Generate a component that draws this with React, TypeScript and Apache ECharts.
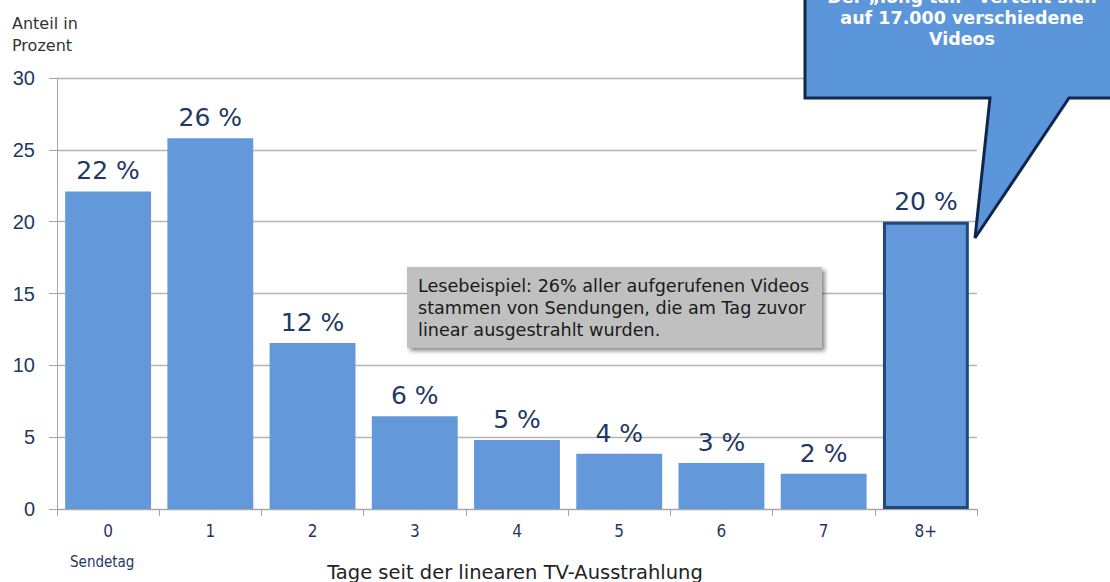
import React, { useEffect, useRef } from "react";
import * as echarts from "echarts";

const categories = ["0", "1", "2", "3", "4", "5", "6", "7", "8+"];
const values = [22.1, 25.8, 11.55, 6.45, 4.8, 3.85, 3.2, 2.45, 20.0];
const labels = ["22 %", "26 %", "12 %", "6 %", "5 %", "4 %", "3 %", "2 %", "20 %"];
const yTicks = [0, 5, 10, 15, 20, 25, 30];

const NAVY = "#1f3864";
const BAR = "#6399da";

export default function App() {
  const ref = useRef<HTMLDivElement>(null);
  useEffect(() => {
    const chart = echarts.init(ref.current!, null, { renderer: "svg" });
    chart.setOption({
      animation: false,
      backgroundColor: "#ffffff",
      grid: { left: 57, right: 133, top: 78, bottom: 73 },
      xAxis: {
        type: "category",
        data: categories,
        axisLine: { lineStyle: { color: "#a6a6a6", width: 1 } },
        axisTick: { show: true, length: 7, lineStyle: { color: "#a6a6a6" } },
        axisLabel: {
          color: NAVY,
          fontSize: 17,
          fontFamily: "Liberation Sans Narrow, DejaVu Sans Condensed, Arial",
          margin: 13,
        },
      },
      yAxis: {
        type: "value",
        min: yTicks[0],
        max: yTicks[yTicks.length - 1],
        interval: 5,
        axisLine: { show: true, lineStyle: { color: "#a6a6a6" } },
        axisTick: { show: true, length: 8, lineStyle: { color: "#a6a6a6" } },
        splitLine: { lineStyle: { color: "#b4b4b4", width: 1.3 } },
        axisLabel: {
          color: NAVY,
          fontSize: 20,
          fontFamily: "Liberation Sans, Arial",
          margin: 22,
        },
      },
      series: [
        {
          type: "bar",
          barCategoryGap: "16%",
          data: values.map((v, i) =>
            i === values.length - 1
              ? { value: v, itemStyle: { color: BAR, borderColor: "#1f497d", borderWidth: 3 } }
              : { value: v, itemStyle: { color: BAR } }
          ),
          label: {
            show: true,
            position: "top",
            distance: 8,
            color: NAVY,
            fontSize: 25,
            fontFamily: "DejaVu Sans, Verdana",
            formatter: (p: any) => labels[p.dataIndex],
          },
        },
      ],
      graphic: [
        {
          type: "text",
          left: 12,
          top: 12,
          style: {
            text: "Anteil in\nProzent",
            fontSize: 16,
            lineHeight: 22,
            fill: "#333333",
            fontFamily: "DejaVu Sans, Verdana",
          },
        },
        {
          type: "text",
          left: 70,
          top: 554,
          style: {
            text: "Sendetag",
            fontSize: 15,
            fill: NAVY,
            fontFamily: "Liberation Sans Narrow, DejaVu Sans Condensed, Arial",
          },
        },
        {
          type: "text",
          x: 515,
          y: 572,
          style: {
            text: "Tage seit der linearen TV-Ausstrahlung",
            fontSize: 19.5,
            fill: "#222222",
            align: "center",
            verticalAlign: "middle",
            fontFamily: "DejaVu Sans, Verdana",
          },
        },
        {
          type: "rect",
          shape: { x: 407, y: 267, width: 415, height: 81 },
          style: {
            fill: "#c0c0c0",
            shadowBlur: 4,
            shadowOffsetX: 3,
            shadowOffsetY: 3,
            shadowColor: "rgba(0,0,0,0.45)",
          },
          z: 10,
        },
        {
          type: "text",
          x: 418,
          y: 275,
          z: 11,
          style: {
            text:
              "Lesebeispiel: 26% aller aufgerufenen Videos\nstammen von Sendungen, die am Tag zuvor\nlinear ausgestrahlt wurden.",
            fontSize: 17.6,
            lineHeight: 22,
            fill: "#1a1a1a",
            fontFamily: "DejaVu Sans, Verdana",
          },
        },
        {
          type: "polygon",
          z: 10,
          shape: {
            points: [
              [805, -5],
              [1116, -5],
              [1116, 98],
              [1069, 98],
              [975, 238],
              [990, 98],
              [805, 98],
            ],
          },
          style: { fill: "#5b96da", stroke: "#10264d", lineWidth: 3 },
        },
        {
          type: "text",
          x: 962,
          y: 18,
          z: 11,
          style: {
            text: "Der \u201elong tail\u201c verteilt sich\nauf 17.000 verschiedene\nVideos",
            fontSize: 17.5,
            fontWeight: "bold",
            lineHeight: 21,
            fill: "#ffffff",
            align: "center",
            verticalAlign: "middle",
            fontFamily: "DejaVu Sans, Verdana",
          },
        },
      ],
    });
    return () => chart.dispose();
  }, []);
  return (
    <div
      ref={ref}
      style={{ position: "fixed", left: 0, top: 0, width: 1110, height: 582 }}
    />
  );
}
